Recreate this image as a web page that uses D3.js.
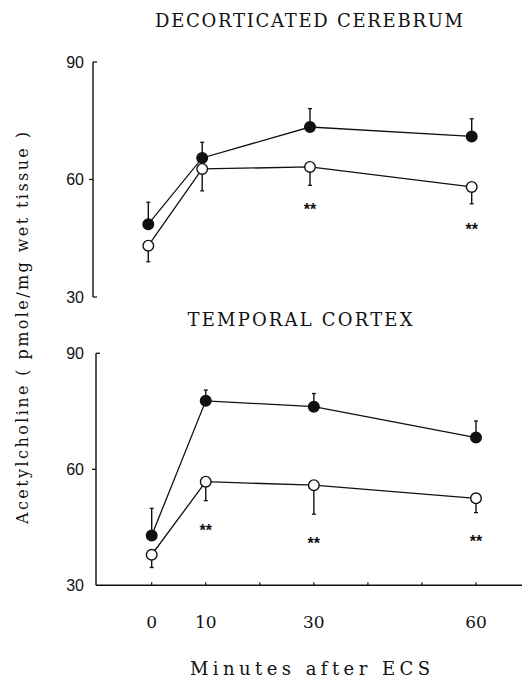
<!DOCTYPE html>
<html><head><meta charset="utf-8">
<script src="https://cdn.jsdelivr.net/npm/d3@7"></script>
<style>body{margin:0;background:#fff}svg{display:block}</style>
</head><body>
<svg id="c" width="525" height="680"></svg>
<script>
const times = [0, 10, 30, 60];
const xTicks = [0, 10, 20, 30, 40, 50, 60];
const xTickLabels = [0, 10, 30, 60];
const yTicks = [30, 60, 90];
const decortCtrl = [48.6, 65.5, 73.4, 71.0];
const decortCtrlSem = [5.6, 4.0, 4.7, 4.5];
const decortEcs = [43.1, 62.7, 63.2, 58.1];
const decortEcsSem = [4.1, 5.6, 4.7, 4.3];
const tempCtrl = [42.9, 77.7, 76.2, 68.2];
const tempCtrlSem = [7.0, 2.8, 3.4, 4.3];
const tempEcs = [37.9, 56.8, 55.9, 52.5];
const tempEcsSem = [3.3, 4.9, 7.5, 3.7];
const decortStars = [{t: 30, v: 53.3}, {t: 60, v: 48.4}];
const tempStars = [{t: 10, v: 45.3}, {t: 30, v: 41.9}, {t: 60, v: 42.4}];

const svg = d3.select("#c");
const ink = "#111";
const serif = "'DejaVu Serif', 'Liberation Serif', serif";
const sans = "'Liberation Sans', Arial, sans-serif";

function panel(cfg) {
  const x = d3.scaleLinear().domain([0, 60]).range(cfg.xr);
  const y = d3.scaleLinear().domain([30, 90]).range(cfg.yr);
  const g = svg.append("g");
  g.append("line").attr("x1", cfg.ax).attr("x2", cfg.ax)
    .attr("y1", y(90)).attr("y2", y(30)).attr("stroke", ink).attr("stroke-width", 1.4);
  yTicks.forEach(v => {
    const dir = v === 60 ? -1 : 1;
    if (!(cfg.xaxis && v === 30))
      g.append("line").attr("x1", cfg.ax).attr("x2", cfg.ax + dir * 4)
        .attr("y1", y(v)).attr("y2", y(v)).attr("stroke", ink).attr("stroke-width", 1.3);
    g.append("text").attr("x", 84).attr("y", y(v)).attr("dy", "0.36em")
      .attr("text-anchor", "end").attr("font-family", sans).attr("font-size", 16)
      .attr("fill", ink).text(v);
  });
  if (cfg.xaxis) {
    g.append("line").attr("x1", cfg.ax).attr("x2", 522).attr("y1", y(30)).attr("y2", y(30))
      .attr("stroke", ink).attr("stroke-width", 1.4);
    xTicks.forEach(t => g.append("line").attr("x1", x(t)).attr("x2", x(t))
      .attr("y1", y(30)).attr("y2", y(30) - 3).attr("stroke", ink).attr("stroke-width", 1.2));
    xTickLabels.forEach(t => g.append("text").attr("x", x(t)).attr("y", 622).attr("dy", "0.36em")
      .attr("text-anchor", "middle").attr("font-family", serif).attr("font-size", 17)
      .attr("fill", ink).text(t));
  }
  const line = d3.line().x((d, i) => x(times[i])).y(d => y(d));
  [[cfg.ctrl, cfg.ctrlSem, 1, ink], [cfg.ecs, cfg.ecsSem, -1, "#fff"]].forEach(([vals, sem, dir, fill]) => {
    g.append("path").datum(vals).attr("d", line).attr("fill", "none")
      .attr("stroke", ink).attr("stroke-width", 1.3);
    vals.forEach((v, i) => {
      const cx = x(times[i]);
      const end = y(v + dir * sem[i]);
      g.append("line").attr("x1", cx).attr("x2", cx).attr("y1", y(v)).attr("y2", end)
        .attr("stroke", ink).attr("stroke-width", 1.4);
      g.append("line").attr("x1", cx - 2).attr("x2", cx + 2).attr("y1", end).attr("y2", end)
        .attr("stroke", ink).attr("stroke-width", 1.3);
    });
    g.selectAll(null).data(vals).join("circle")
      .attr("cx", (d, i) => x(times[i])).attr("cy", d => y(d)).attr("r", 5.3)
      .attr("fill", fill).attr("stroke", ink).attr("stroke-width", 1.4);
  });
  cfg.stars.forEach(s => g.append("text").attr("x", x(s.t)).attr("y", y(s.v)).attr("dy", "0.6em")
    .attr("text-anchor", "middle").attr("font-family", sans).attr("font-size", 16)
    .attr("font-weight", "bold").attr("fill", ink).text("**"));
  g.append("text").attr("x", cfg.tx).attr("y", cfg.ty).attr("dy", "0.36em")
    .attr("text-anchor", "middle").attr("font-family", serif).attr("font-size", 18)
    .attr("textLength", cfg.tl).attr("lengthAdjust", "spacing")
    .attr("fill", ink).text(cfg.title);
}

panel({xr: [148.3, 471.7], yr: [297, 62], ax: 93, xaxis: false,
  ctrl: decortCtrl, ctrlSem: decortCtrlSem, ecs: decortEcs, ecsSem: decortEcsSem,
  stars: decortStars, title: "DECORTICATED CEREBRUM", tx: 309, ty: 21, tl: 308});
panel({xr: [151.7, 476], yr: [585.3, 353.3], ax: 96, xaxis: true,
  ctrl: tempCtrl, ctrlSem: tempCtrlSem, ecs: tempEcs, ecsSem: tempEcsSem,
  stars: tempStars, title: "TEMPORAL CORTEX", tx: 300, ty: 320, tl: 225});

svg.append("text").attr("transform", "translate(22,328) rotate(-90)").attr("dy", "0.36em")
  .attr("text-anchor", "middle").attr("font-family", serif).attr("font-size", 16)
  .attr("textLength", 392).attr("lengthAdjust", "spacing").attr("fill", ink)
  .text("Acetylcholine ( pmole/mg wet tissue )");
svg.append("text").attr("x", 310).attr("y", 669).attr("dy", "0.36em")
  .attr("text-anchor", "middle").attr("font-family", serif).attr("font-size", 18)
  .attr("textLength", 240).attr("lengthAdjust", "spacing").attr("fill", ink)
  .text("Minutes after ECS");
</script>
</body></html>
